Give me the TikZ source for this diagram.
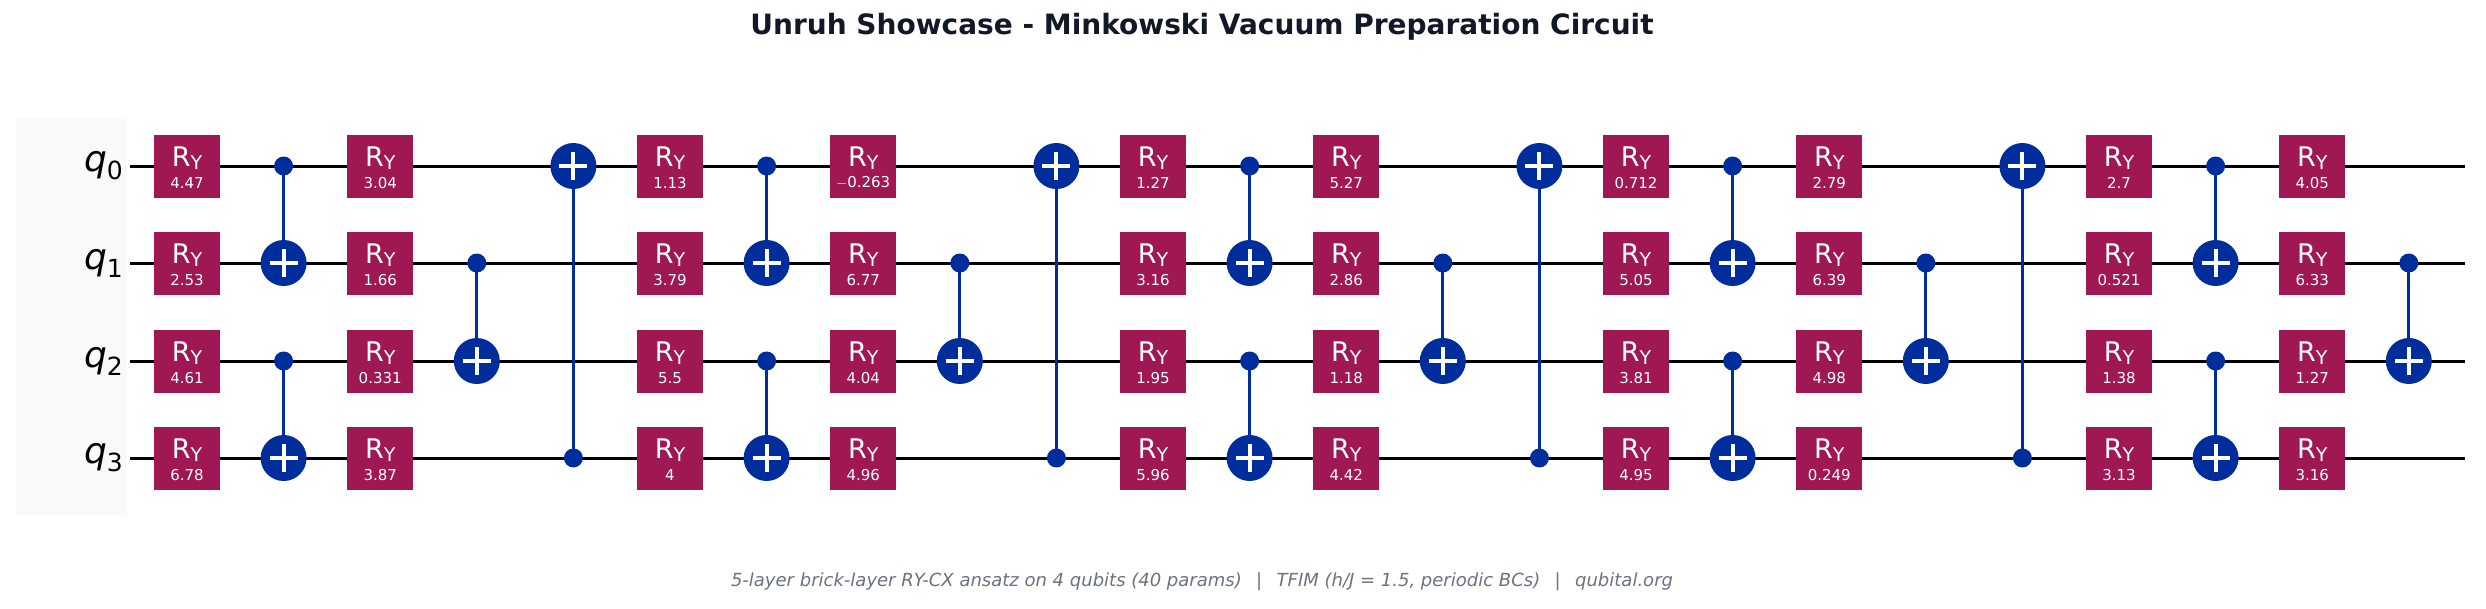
\documentclass[tikz,border=0pt]{standalone}
\usepackage{fontspec}
\setmainfont{DejaVu Sans}
\definecolor{gate}{HTML}{9F1853}
\definecolor{cx}{HTML}{002D9C}
\definecolor{panel}{HTML}{F8F9FB}
\definecolor{ttl}{HTML}{111827}
\definecolor{cap}{HTML}{6B7280}
\begin{document}
\begin{tikzpicture}[x=1pt,y=-1pt,
  ry/.style={fill=gate,draw=none,minimum width=66pt,minimum height=63pt,inner sep=0pt},
  wire/.style={line width=3pt,black},
  cxl/.style={line width=3pt,cx},
  tgt/.style={circle,fill=cx,minimum size=46pt,inner sep=0pt},
  ctl/.style={circle,fill=cx,minimum size=19pt,inner sep=0pt}]
\useasboundingbox (0,0) rectangle (2486,608);
\fill[panel] (16,119) rectangle (127,515);
\node[font=\bfseries\fontsize{28}{32}\selectfont,text=ttl] (title) at (1202,27) {Unruh Showcase - Minkowski Vacuum Preparation Circuit};
\node[font=\itshape\fontsize{18}{22}\selectfont,text=cap] (caption) at (1202,582) {5-layer brick-layer RY-CX ansatz on 4 qubits (40 params)\hspace{0.8em}|\hspace{0.8em}TFIM (h/J = 1.5, periodic BCs)\hspace{0.8em}|\hspace{0.8em}qubital.org};
\foreach \q/\y in {0/166,1/263,2/361,3/458}{
  \node[font=\fontsize{36}{38}\selectfont,anchor=east,inner sep=0pt] (lab\q) at (123,\y) {\itshape q\raisebox{-8pt}{\upshape\fontsize{25}{26}\selectfont\q}};
  \coordinate (ws\q) at (130,\y);
  \coordinate (we\q) at (2465,\y);
  \draw[wire] (ws\q) -- (we\q);
}
\newcommand{\rygate}[3]{%
  \node[ry] (#1) at (#2,#3) {};
  \node[text=white,font=\fontsize{27}{28}\selectfont] at ([yshift=8pt]#1.center) {R\raisebox{-3pt}{\fontsize{19}{20}\selectfont Y}};
  \node[text=white,font=\fontsize{15}{16}\selectfont] at ([yshift=-17pt]#1.center) {\ang};
}
\newcommand{\cxgate}[4]{%
  \coordinate (#1c) at (#2,#3);
  \coordinate (#1t) at (#2,#4);
  \draw[cxl] (#1c) -- (#1t);
  \node[ctl] (#1ctl) at (#1c) {};
  \node[tgt] (#1tgt) at (#1t) {};
  \draw[white,line width=4pt] ([xshift=-14pt]#1t) -- ([xshift=14pt]#1t) ([yshift=-14pt]#1t) -- ([yshift=14pt]#1t);
}
\foreach \L/\a/\b/\c/\d/\e/\f/\g/\h in {
 0/4.47/2.53/4.61/6.78/3.04/1.66/0.331/3.87,
 1/1.13/3.79/5.5/4/$-$0.263/6.77/4.04/4.96,
 2/1.27/3.16/1.95/5.96/5.27/2.86/1.18/4.42,
 3/0.712/5.05/3.81/4.95/2.79/6.39/4.98/0.249,
 4/2.7/0.521/1.38/3.13/4.05/6.33/1.27/3.16}{
  \pgfmathsetmacro{\xa}{187+96.6*5*\L}
  \pgfmathsetmacro{\xb}{\xa+96.6}
  \pgfmathsetmacro{\xc}{\xa+2*96.6}
  \pgfmathsetmacro{\xd}{\xa+3*96.6}
  \pgfmathsetmacro{\xe}{\xa+4*96.6}
  \def\ang{\a}\rygate{ra\L q0}{\xa}{166}
  \def\ang{\b}\rygate{ra\L q1}{\xa}{263}
  \def\ang{\c}\rygate{ra\L q2}{\xa}{361}
  \def\ang{\d}\rygate{ra\L q3}{\xa}{458}
  \cxgate{cxa\L}{\xb}{166}{263}
  \cxgate{cxb\L}{\xb}{361}{458}
  \def\ang{\e}\rygate{rb\L q0}{\xc}{166}
  \def\ang{\f}\rygate{rb\L q1}{\xc}{263}
  \def\ang{\g}\rygate{rb\L q2}{\xc}{361}
  \def\ang{\h}\rygate{rb\L q3}{\xc}{458}
  \cxgate{cxc\L}{\xd}{263}{361}
  \ifnum\L<4 \cxgate{cxd\L}{\xe}{458}{166}\fi
}
\end{tikzpicture}
\end{document}
